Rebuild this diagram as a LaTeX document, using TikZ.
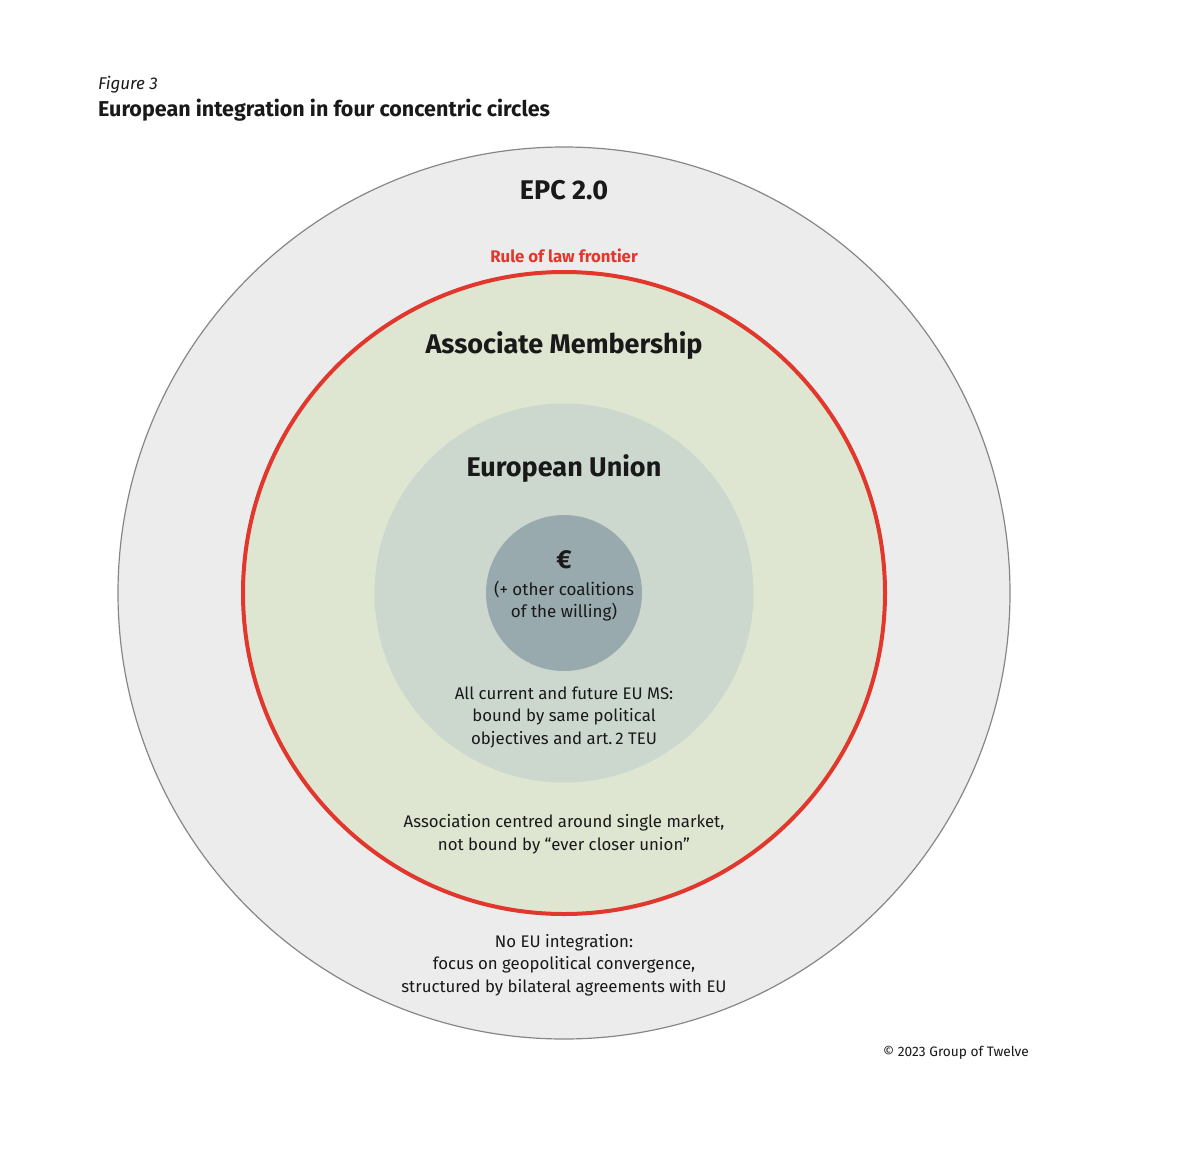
\documentclass[tikz,border=0pt]{standalone}
\usepackage{fontspec}
\setmainfont{Fira Sans}
\definecolor{ringgray}{RGB}{236,236,236}
\definecolor{ringedge}{RGB}{135,135,135}
\definecolor{frontier}{RGB}{225,55,45}
\definecolor{assocgreen}{RGB}{222,230,210}
\definecolor{eugreen}{RGB}{204,216,206}
\definecolor{eurogray}{RGB}{152,170,174}
\definecolor{txt}{RGB}{25,25,25}
\begin{document}
\begin{tikzpicture}
[x=1pt,y=-1pt,every node/.style={inner sep=0pt,text=txt},
ring/.style={circle,draw=none},
head/.style={font=\fontsize{27}{32}\selectfont\bfseries},
body/.style={align=center,font=\fontsize{16.8}{22.5}\selectfont}]
\useasboundingbox[fill=white] (0,0) rectangle (1178,1154);
% the four circles
\node[ring,fill=ringgray,draw=ringedge,line width=1.2pt,minimum size=892pt] (epc) at (564,593) {};
\node[ring,fill=assocgreen,draw=frontier,line width=4pt,minimum size=642pt] (assoc) at (564,593) {};
\node[ring,fill=eugreen,minimum size=379pt] (eu) at (564,593) {};
\node[ring,fill=eurogray,minimum size=156pt] (euro) at (564,593) {};
% titles
\node[anchor=base west,font=\fontsize{17}{20}\selectfont\itshape] (fig) at (98,89) {Figure 3};
\node[anchor=base west,font=\fontsize{21.5}{24}\selectfont\bfseries] (title) at (98,116) {European integration in four concentric circles};
% circle labels
\node[head] (epclbl) at (564,190) {EPC 2.0};
\node[font=\fontsize{16.8}{20}\selectfont\bfseries,text=frontier] (rule) at (564,256) {Rule of law frontier};
\node[head] (assoclbl) at (564,346) {Associate Membership};
\node[head] (eulbl) at (564,469) {European Union};
\node[font=\fontsize{26}{30}\selectfont\bfseries] (eurolbl) at (564,560) {€};
\node[body,font=\fontsize{17}{22.5}\selectfont] (coal) at (564,601) {(+ other coalitions\\of the willing)};
\node[body] (eutxt) at (564,717) {All current and future EU MS:\\bound by same political\\objectives and art.\,2 TEU};
\node[body] (assoctxt) at (564,834) {Association centred around single market,\\not bound by “ever closer union”};
\node[body] (epctxt) at (564,965) {No EU integration:\\focus on geopolitical convergence,\\structured by bilateral agreements with EU};
\node[anchor=west,font=\fontsize{13.7}{16}\selectfont] (copy) at (883,1053) {© 2023 Group of Twelve};
\end{tikzpicture}
\end{document}
